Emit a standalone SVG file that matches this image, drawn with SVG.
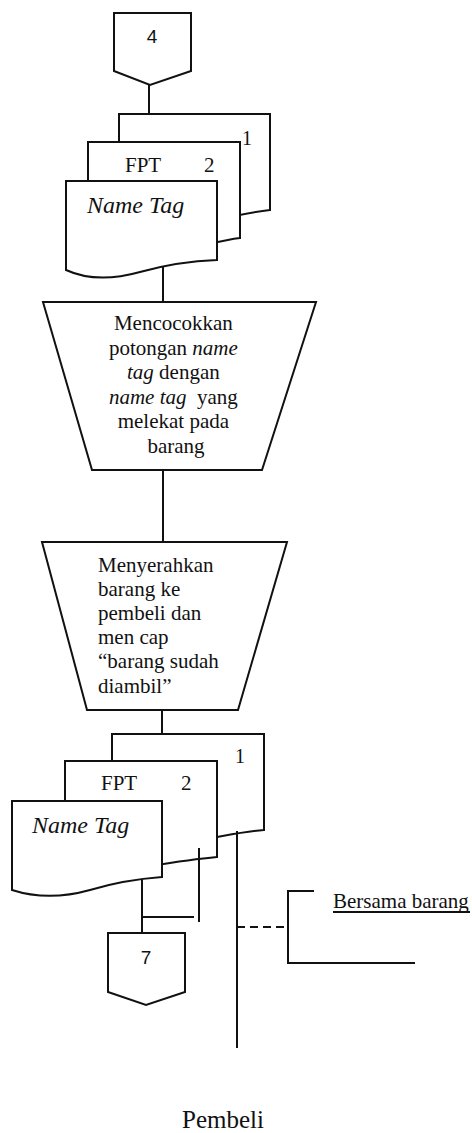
<svg xmlns="http://www.w3.org/2000/svg" width="472" height="1133" viewBox="0 0 472 1133">
  <style>
    .shape { fill: #ffffff; stroke: #111111; stroke-width: 2; stroke-linejoin: miter; }
    .line { fill: none; stroke: #111111; stroke-width: 2; }
    .dash { fill: none; stroke: #111111; stroke-width: 2; stroke-dasharray: 8 5; }
    .it { font-style: italic; }
  </style>
  <rect width="472" height="1133" fill="#ffffff"/>

  <!-- off-page connector 4 -->
  <g id="conn-4">
    <path class="shape" d="M114,13 H191 V71 L150,85 L114,71 Z"/>
    <text font-family="Liberation Sans, Arial, sans-serif" fill="#111" x="152" y="43" font-size="19" text-anchor="middle">4</text>
  </g>

  <!-- serif labels share one font stack -->
  <g font-family="Liberation Serif, Times New Roman, DejaVu Serif, serif" fill="#111">

  <!-- incoming document set: copy 1, FPT copy 2, Name Tag -->
  <g id="doc-in-1">
    <path class="shape" d="M119,114 H270 V210 C225,215 180,232 150,228 C130,225 122,222 119,222 Z"/>
    <text x="242" y="145" font-size="20">1</text>
  </g>
  <g id="doc-in-2">
    <path class="shape" d="M88,142 H240 V238 C215,241 190,250 160,252 C120,254 95,250 88,250 Z"/>
    <text x="125" y="172" font-size="21">FPT</text>
    <text x="204" y="172" font-size="21">2</text>
  </g>
  <g id="doc-in-3">
    <path class="shape" d="M66,181 H217 V260 C190,261 165,265 140,272 C115,279 90,281 66,270 Z"/>
    <text class="it" x="87" y="213" font-size="24">Name Tag</text>
  </g>

  <!-- manual operation: matching the name tags -->
  <g id="op-match">
    <path class="shape" d="M43,302 H316 L262,470 H92 Z"/>
    <text font-size="21" text-anchor="middle">
      <tspan x="176" y="330">Mencocokkan</tspan>
      <tspan x="176" y="355">potongan <tspan class="it">name</tspan></tspan>
      <tspan x="176" y="379"><tspan class="it">tag</tspan> dengan</tspan>
      <tspan x="176" y="404"><tspan class="it">name tag</tspan>&#160; yang</tspan>
      <tspan x="176" y="428">melekat pada</tspan>
      <tspan x="176" y="453">barang</tspan>
    </text>
  </g>

  <!-- manual operation: handing over the goods -->
  <g id="op-handover">
    <path class="shape" d="M42,542 H287 L238,710 H87 Z"/>
    <text font-size="21">
      <tspan x="98" y="572">Menyerahkan</tspan>
      <tspan x="98" y="596">barang ke</tspan>
      <tspan x="98" y="620">pembeli dan</tspan>
      <tspan x="98" y="644">men cap</tspan>
      <tspan x="98" y="668">“barang sudah</tspan>
      <tspan x="98" y="693">diambil”</tspan>
    </text>
  </g>

  <!-- outgoing document set -->
  <g id="doc-out-1">
    <path class="shape" d="M112,734 H264 V830 C240,832 225,836 200,840 C160,846 125,846 112,846 Z"/>
    <text x="235" y="763" font-size="20">1</text>
  </g>
  <g id="doc-out-2">
    <path class="shape" d="M65,761 H217 V857 C195,859 175,862 150,866 C110,872 80,873 65,872 Z"/>
    <text x="101" y="790" font-size="21">FPT</text>
    <text x="181" y="790" font-size="21">2</text>
  </g>
  <g id="doc-out-3">
    <path class="shape" d="M12,801 H162 V877 C135,879 110,884 90,890 C65,897 40,899 12,890 Z"/>
    <text class="it" x="32" y="833" font-size="24">Name Tag</text>
  </g>

  <!-- annotation -->
  <g id="note-bersama">
    <path class="line" d="M314,891 H288 V963 H415"/>
    <text x="333" y="908" font-size="21">Bersama barang</text>
    <line class="line" x1="333" y1="912" x2="470" y2="912" stroke-width="1.5"/>
  </g>

  <!-- lane label -->
  <g id="label-pembeli">
    <text x="223" y="1128" font-size="25" text-anchor="middle">Pembeli</text>
  </g>

  </g>

  <!-- off-page connector 7 -->
  <g id="conn-7">
    <path class="shape" d="M108,933 H185 V992 L146,1005 L108,992 Z"/>
    <text font-family="Liberation Sans, Arial, sans-serif" fill="#111" x="146" y="964" font-size="19" text-anchor="middle">7</text>
  </g>

  <!-- connectors -->
  <g id="connectors">
    <line class="line" x1="149" y1="85" x2="149" y2="114"/>
    <line class="line" x1="163" y1="266" x2="163" y2="302"/>
    <line class="line" x1="163" y1="470" x2="163" y2="542"/>
    <line class="line" x1="162" y1="710" x2="162" y2="734"/>
    <line class="line" x1="237" y1="831" x2="237" y2="1048"/>
    <line class="line" x1="199" y1="848" x2="199" y2="922"/>
    <path class="line" d="M142,879 V933 M142,917 H194"/>
    <line class="dash" x1="237" y1="927" x2="288" y2="927"/>
  </g>
</svg>
